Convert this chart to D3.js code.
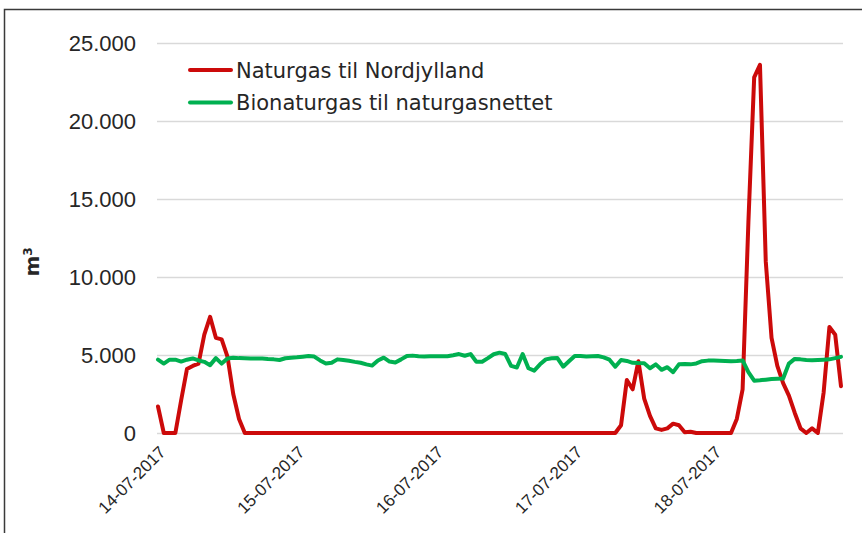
<!DOCTYPE html>
<html>
<head>
<meta charset="utf-8">
<script src="https://cdn.jsdelivr.net/npm/d3@7"></script>
<style>
  body { margin: 0; background: #fff; }
  text { fill: #262626; }
</style>
</head>
<body>
<script>
// day labels on the x axis and the hour index where each day starts
var dayLabels = ["14-07-2017", "15-07-2017", "16-07-2017", "17-07-2017", "18-07-2017"];
var dayTicks = [0, 24, 48, 72, 96];

var yTicks = [0, 5000, 10000, 15000, 20000, 25000];

var seriesNames = ["Naturgas til Nordjylland", "Bionaturgas til naturgasnettet"];

// hourly values, m3
var naturgas = [
  1700, 0, 0, 0, 2100, 4100, 4300, 4450, 6300, 7450, 6100, 6000, 4900, 2500, 900, 0,
  0, 0, 0, 0, 0, 0, 0, 0, 0, 0, 0, 0, 0, 0, 0, 0,
  0, 0, 0, 0, 0, 0, 0, 0, 0, 0, 0, 0, 0, 0, 0, 0,
  0, 0, 0, 0, 0, 0, 0, 0, 0, 0, 0, 0, 0, 0, 0, 0,
  0, 0, 0, 0, 0, 0, 0, 0, 0, 0, 0, 0, 0, 0, 0, 0,
  500, 3400, 2800, 4600, 2200, 1100, 300, 200, 300, 600, 500, 50, 80, 0, 0, 0,
  0, 0, 0, 0, 900, 2800, 13500, 22800, 23600, 11000, 6100, 4300, 3200, 2400, 1300, 300,
  0, 300, 0, 2600, 6800, 6300, 3000
];

var bionaturgas = [
  4700, 4450, 4700, 4700, 4580, 4700, 4780, 4650, 4560, 4350, 4800, 4450, 4780, 4830, 4800, 4790,
  4780, 4780, 4770, 4740, 4720, 4680, 4790, 4830, 4850, 4890, 4930, 4900, 4650, 4450, 4500, 4720,
  4680, 4630, 4560, 4500, 4400, 4320, 4650, 4830, 4580, 4520, 4720, 4940, 4960, 4920, 4900, 4920,
  4920, 4920, 4920, 4980, 5060, 4950, 5060, 4570, 4570, 4800, 5050, 5150, 5060, 4300, 4200, 5060,
  4150, 4000, 4400, 4720, 4790, 4800, 4250, 4600, 4940, 4930, 4900, 4920, 4940, 4850, 4700, 4250,
  4680, 4620, 4500, 4480, 4470, 4150, 4400, 4050, 4220, 3900, 4400, 4420, 4400, 4460, 4600, 4640,
  4640, 4630, 4620, 4600, 4620, 4650, 3900, 3350, 3380, 3420, 3460, 3480, 3500, 4450, 4750, 4720,
  4680, 4660, 4680, 4700, 4720, 4800, 4880
];

var colors = ["#cc0a0a", "#00b050"];

var width = 862, height = 533;

var svg = d3.select("body").append("svg")
    .attr("width", width)
    .attr("height", height);

// chart frame
svg.append("rect")
    .attr("x", 4.5).attr("y", 9.5)
    .attr("width", 900).attr("height", 600)
    .attr("fill", "none")
    .attr("stroke", "#3a3a3a")
    .attr("stroke-width", 1.5);

var x = d3.scaleLinear().domain([0, naturgas.length - 1]).range([158, 841]);
var y = d3.scaleLinear().domain([0, 25000]).range([433, 43]);

var fmt = d3.formatLocale({decimal: ",", thousands: ".", grouping: [3], currency: ["", " kr"]}).format(",d");

// y axis with gridlines
var yAxis = svg.append("g")
    .attr("transform", "translate(157,0)")
    .call(d3.axisLeft(y).tickValues(yTicks).tickSize(-686).tickPadding(21).tickFormat(fmt));
yAxis.select(".domain").remove();
yAxis.selectAll("line").attr("stroke", "#d9d9d9").attr("stroke-width", 1.5);
yAxis.selectAll("text")
    .style("font-family", "'Liberation Sans', Arial, sans-serif")
    .style("font-size", "22px")
    .attr("dy", "0.36em");

// x axis, rotated day labels
var xAxis = svg.append("g")
    .attr("transform", "translate(0,433)")
    .call(d3.axisBottom(x).tickValues(dayTicks).tickSize(0).tickFormat(function(d, i) { return dayLabels[i]; }));
xAxis.select(".domain").remove();
xAxis.selectAll("text")
    .style("font-family", "'Liberation Sans', Arial, sans-serif")
    .style("font-size", "17px")
    .attr("text-anchor", "end")
    .attr("y", 0)
    .attr("dy", "0.35em")
    .attr("transform", "translate(4,16) rotate(-45)");

// axis title
var title = svg.append("text")
    .attr("transform", "translate(39,262) rotate(-90)")
    .attr("text-anchor", "middle")
    .style("font-family", "'DejaVu Sans', sans-serif")
    .style("font-size", "20px")
    .style("font-weight", "bold");
title.append("tspan").text("m");
title.append("tspan").attr("baseline-shift", "super").style("font-size", "12px").text("3");

var line = d3.line()
    .x(function(d, i) { return x(i); })
    .y(function(d) { return y(d); });

svg.selectAll(".series")
    .data([naturgas, bionaturgas])
    .enter().append("path")
    .attr("class", "series")
    .attr("d", line)
    .attr("fill", "none")
    .attr("stroke", function(d, i) { return colors[i]; })
    .attr("stroke-width", 4)
    .attr("stroke-linejoin", "round")
    .attr("stroke-linecap", "round");

// legend
var legend = svg.selectAll(".legend")
    .data(seriesNames)
    .enter().append("g")
    .attr("class", "legend")
    .attr("transform", function(d, i) { return "translate(190," + (70 + i * 32.5) + ")"; });
legend.append("line")
    .attr("x1", 0).attr("x2", 41)
    .attr("stroke", function(d, i) { return colors[i]; })
    .attr("stroke-width", 4)
    .attr("stroke-linecap", "round");
legend.append("text")
    .attr("x", 46)
    .attr("dy", "0.36em")
    .style("font-family", "'DejaVu Sans', sans-serif")
    .style("font-size", "21px")
    .text(function(d) { return d; });
</script>
</body>
</html>
